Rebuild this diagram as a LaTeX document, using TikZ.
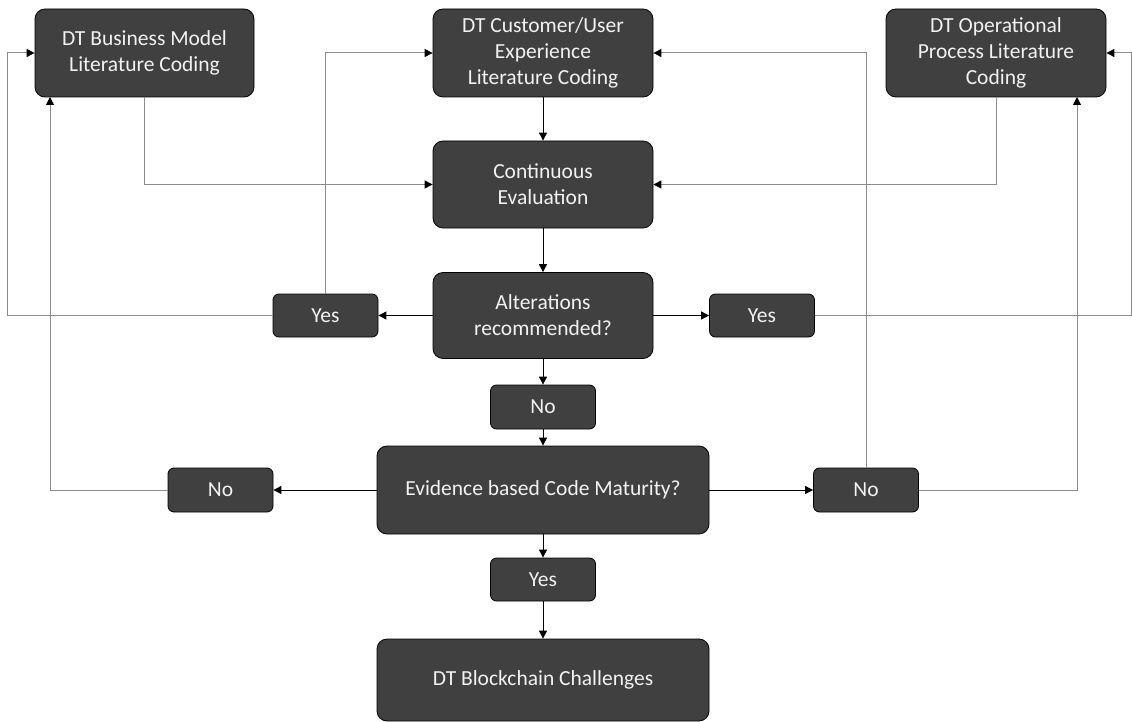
\documentclass[tikz,border=0pt]{standalone}
\usepackage{fontspec}
\setmainfont{Carlito}
\usetikzlibrary{arrows.meta}
\definecolor{boxfill}{HTML}{404040}
\definecolor{boxtext}{HTML}{F2F2F2}
\definecolor{darkline}{HTML}{505050}
\definecolor{loopline}{HTML}{8C8C8C}
\tikzset{
  bigbox/.style={draw=black, line width=0.8pt, fill=boxfill, rounded corners=10pt, text=boxtext,
    align=center, font=\fontsize{21.5}{26}\selectfont, inner sep=2pt},
  smallbox/.style={draw=black, line width=0.8pt, fill=boxfill, rounded corners=6pt, text=boxtext,
    align=center, font=\fontsize{21.5}{26}\selectfont, inner sep=2pt,
    minimum width=105pt, minimum height=43pt},
  arr/.style={draw=darkline, line width=0.9pt, -{Triangle[length=8pt,width=8pt]}, black},
  looparr/.style={draw=loopline, line width=1pt, -{Triangle[length=8pt,width=8pt,color=black,fill=black]}},
}
\begin{document}
\begin{tikzpicture}[x=1pt,y=-1pt]
\useasboundingbox (0,0) rectangle (1132,722);
% top row
\node[bigbox, minimum width=219pt, minimum height=88pt] (BM) at (144.5,53) {DT Business Model\\Literature Coding};
\node[bigbox, minimum width=220pt, minimum height=88pt] (CUX) at (543,53) {DT Customer/User\\Experience\\Literature Coding};
\node[bigbox, minimum width=220pt, minimum height=88pt] (OP) at (996,53) {DT Operational\\Process Literature\\Coding};
% column
\node[bigbox, minimum width=220pt, minimum height=87pt] (CE) at (543,184.5) {Continuous\\Evaluation};
\node[bigbox, minimum width=220pt, minimum height=86pt] (AR) at (543,315.5) {Alterations\\recommended?};
\node[smallbox] (YL) at (325.5,315.5) {Yes};
\node[smallbox] (YR) at (762,315.5) {Yes};
\node[smallbox, minimum height=44pt] (N1) at (543,407) {No};
\node[bigbox, minimum width=332pt, minimum height=88pt] (EC) at (543,490) {Evidence based Code Maturity?};
\node[smallbox, minimum height=44pt] (NL) at (220.5,490) {No};
\node[smallbox, minimum height=44pt] (NR) at (866,490) {No};
\node[smallbox] (YB) at (543,579.5) {Yes};
\node[bigbox, minimum width=332pt, minimum height=82pt] (BC) at (543,680) {DT Blockchain Challenges};
% helper coordinates
\coordinate (L1) at (7,315.5);
\coordinate (R1) at (1131,315.5);
\coordinate (bmb) at (50,97);
\coordinate (opb) at (1077,97);
% connectors
\draw[looparr] (BM.south) |- (CE.west);
\draw[looparr] (OP.south) |- (CE.east);
\draw[arr] (CUX.south) -- (CE.north);
\draw[arr] (CE.south) -- (AR.north);
\draw[arr] (AR.west) -- (YL.east);
\draw[arr] (AR.east) -- (YR.west);
\draw[looparr] (YL.west) -- (L1) |- (BM.west);
\draw[looparr] (YL.north) |- (CUX.west);
\draw[looparr] (YR.east) -- (R1) |- (OP.east);
\draw[arr] (AR.south) -- (N1.north);
\draw[arr] (N1.south) -- (EC.north);
\draw[arr] (EC.west) -- (NL.east);
\draw[arr] (EC.east) -- (NR.west);
\draw[looparr] (NL.west) -| (bmb);
\draw[looparr] (NR.north) |- (CUX.east);
\draw[looparr] (NR.east) -| (opb);
\draw[arr] (EC.south) -- (YB.north);
\draw[arr] (YB.south) -- (BC.north);
\end{tikzpicture}
\end{document}
